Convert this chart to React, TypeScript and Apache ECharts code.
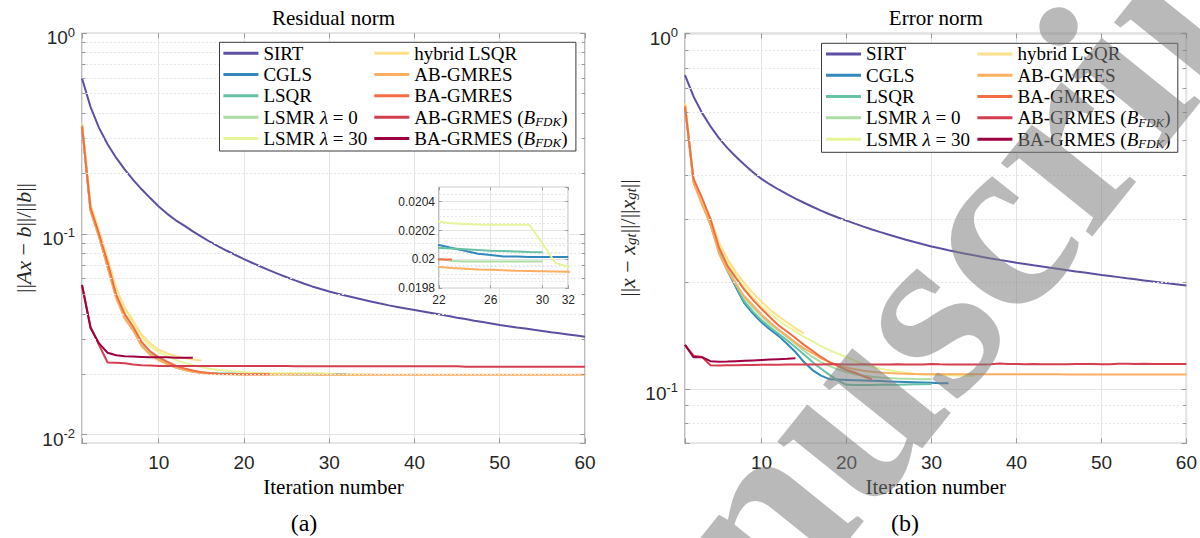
import React, { useEffect, useRef } from 'react';
import * as echarts from 'echarts';

// ---------- data ----------
const NAMES = ['SIRT', 'CGLS', 'LSQR', 'LSMR λ = 0', 'LSMR λ = 30', 'hybrid LSQR', 'AB-GMRES', 'BA-GMRES', 'AB-GRMES (B_FDK)', 'BA-GRMES (B_FDK)'];
const COLORS = ['#5E4FA2', '#3288BD', '#66C2A5', '#ABDDA4', '#E6F598', '#FEE08B', '#FDAE61', '#F46D43', '#D53E4F', '#9E0142'];
const LEGEND_TEXT = ['SIRT', 'CGLS', 'LSQR', 'LSMR {i|λ} = 0', 'LSMR {i|λ} = 30', 'hybrid LSQR', 'AB-GMRES', 'BA-GMRES', 'AB-GRMES ({i|B}{s|FDK})', 'BA-GRMES ({i|B}{s|FDK})'];

// Residual norm (panel a), value at iteration 1, 2, ...
const RES_SIRT = [0.597, 0.43, 0.338, 0.28, 0.24, 0.21, 0.186, 0.167, 0.151, 0.137,
  0.126, 0.117, 0.11, 0.103, 0.097, 0.0915, 0.0868, 0.0825, 0.0786, 0.075,
  0.0717, 0.0687, 0.0659, 0.0633, 0.0609, 0.0587, 0.0567, 0.0548, 0.0532, 0.0517,
  0.0504, 0.0492, 0.0481, 0.047, 0.046, 0.045, 0.0441, 0.0433, 0.0425, 0.0418,
  0.0411, 0.0404, 0.0397, 0.039, 0.0383, 0.0377, 0.037, 0.0364, 0.0358, 0.0352,
  0.0347, 0.0342, 0.0338, 0.0333, 0.0329, 0.0324, 0.032, 0.0316, 0.0312, 0.0308];
const RES_CGLS = [0.35, 0.132, 0.098, 0.07, 0.049, 0.039, 0.0335, 0.0282, 0.0254, 0.0238,
  0.0227, 0.0218, 0.0212, 0.0207, 0.0204, 0.0202, 0.02015, 0.02013, 0.02012, 0.02011,
  0.0201, 0.0201, 0.02008, 0.02006, 0.02004, 0.02003, 0.02002, 0.02002, 0.020017, 0.020017,
  0.020017, 0.020017];
const RES_LSQR = [0.35, 0.131, 0.097, 0.069, 0.049, 0.039, 0.0333, 0.028, 0.0253, 0.0237,
  0.0226, 0.0217, 0.0211, 0.0207, 0.0204, 0.02025, 0.02017, 0.02013, 0.0201, 0.02009,
  0.02008, 0.02008, 0.020075, 0.02007, 0.020065, 0.02006, 0.020058, 0.020055, 0.020052, 0.02005];
const RES_LSMR0 = [0.35, 0.131, 0.097, 0.069, 0.049, 0.039, 0.0333, 0.028, 0.0253, 0.0237,
  0.0225, 0.0216, 0.021, 0.0206, 0.0203, 0.02015, 0.0201, 0.02006, 0.02003, 0.02002,
  0.02001, 0.020005, 0.01999, 0.019985, 0.019985, 0.019985, 0.019985, 0.019985, 0.019985, 0.019985];
const RES_LSMR30 = [0.356, 0.14, 0.104, 0.075, 0.053, 0.042, 0.036, 0.0305, 0.0275, 0.0258,
  0.0246, 0.0236, 0.0228, 0.0222, 0.0217, 0.0213, 0.021, 0.0208, 0.02065, 0.0205,
  0.0203, 0.020262, 0.02025, 0.020245, 0.020242, 0.02024, 0.02024, 0.02024, 0.02024, 0.02011,
  0.019975, 0.01995, 0.01994, 0.01993, 0.01993];
const RES_HYBRID = [0.356, 0.14, 0.104, 0.076, 0.054, 0.043, 0.037, 0.0315, 0.0285, 0.0265,
  0.0254, 0.0246, 0.0241, 0.0237, 0.0234];
const RES_AB = [0.35, 0.13, 0.097, 0.068, 0.048, 0.038, 0.033, 0.0276, 0.025, 0.0235,
  0.0225, 0.0216, 0.021, 0.0206, 0.0203, 0.0201, 0.02, 0.01998, 0.01997, 0.01996,
  0.01995, 0.019947, 0.01994, 0.019935, 0.01993, 0.019928, 0.019925, 0.019922, 0.01992, 0.019918,
  0.019916, 0.019914, 0.019912, 0.01991, 0.019908, 0.019906, 0.019905, 0.019904, 0.019903, 0.019902,
  0.019901, 0.0199, 0.0199, 0.0199, 0.0199, 0.0199, 0.0199, 0.0199, 0.0199, 0.0199,
  0.0199, 0.0199, 0.0199, 0.0199, 0.0199, 0.0199, 0.0199, 0.0199, 0.0199, 0.0199];
const RES_BA = [0.343, 0.135, 0.1, 0.072, 0.05, 0.04, 0.0345, 0.029, 0.026, 0.0243,
  0.0231, 0.0221, 0.0214, 0.0209, 0.0205, 0.0203, 0.02015, 0.02008, 0.02004, 0.02002,
  0.02001, 0.02, 0.02];
const RES_ABF = [0.0557, 0.0345, 0.028, 0.0229, 0.0228, 0.0227, 0.0224, 0.0222, 0.0221, 0.022,
  0.022, 0.022, 0.022, 0.022, 0.022, 0.022, 0.022, 0.022, 0.022, 0.022,
  0.022, 0.022, 0.022, 0.022, 0.022, 0.0219, 0.0219, 0.0219, 0.0219, 0.0219,
  0.0219, 0.0219, 0.0219, 0.0219, 0.0219, 0.0219, 0.0219, 0.0219, 0.0219, 0.0219,
  0.0219, 0.0219, 0.0219, 0.0219, 0.0219, 0.0218, 0.0218, 0.0218, 0.0218, 0.0218,
  0.0218, 0.0218, 0.0218, 0.0218, 0.0218, 0.0218, 0.0218, 0.0218, 0.0218, 0.0218];
const RES_BAF = [0.0557, 0.034, 0.0285, 0.0256, 0.0249, 0.0246, 0.0245, 0.0244, 0.0243, 0.0243,
  0.0243, 0.0242, 0.0242, 0.0242];

// Error norm (panel b)
const ERR_SIRT = [0.764, 0.665, 0.598, 0.548, 0.508, 0.476, 0.45, 0.427, 0.407, 0.39,
  0.376, 0.364, 0.353, 0.343, 0.334, 0.3255, 0.3175, 0.31, 0.3035, 0.2975,
  0.2917, 0.2862, 0.281, 0.2761, 0.2715, 0.2671, 0.2629, 0.259, 0.2553, 0.2517,
  0.2486, 0.2456, 0.2428, 0.2401, 0.2376, 0.2352, 0.2329, 0.2307, 0.2286, 0.2266,
  0.2247, 0.2228, 0.221, 0.2192, 0.2175, 0.2158, 0.2141, 0.2125, 0.2109, 0.2093,
  0.2078, 0.2063, 0.2048, 0.2034, 0.202, 0.2006, 0.1992, 0.1979, 0.1966, 0.1953];
const ERR_CGLS = [0.63, 0.385, 0.335, 0.29, 0.245, 0.215, 0.193, 0.174, 0.163, 0.154,
  0.147, 0.141, 0.134, 0.127, 0.119, 0.113, 0.109, 0.1065, 0.1062, 0.106,
  0.1058, 0.1056, 0.1054, 0.1052, 0.105, 0.1048, 0.1046, 0.1044, 0.1042, 0.104,
  0.1038, 0.1037];
const ERR_LSQR = [0.63, 0.385, 0.336, 0.292, 0.247, 0.217, 0.195, 0.176, 0.165, 0.156,
  0.149, 0.143, 0.137, 0.131, 0.125, 0.119, 0.114, 0.1095, 0.1055, 0.1027,
  0.1026, 0.1026, 0.1026, 0.1027, 0.1027, 0.1028, 0.1029, 0.103, 0.1031, 0.1032];
const ERR_LSMR0 = [0.632, 0.387, 0.338, 0.295, 0.25, 0.22, 0.198, 0.18, 0.169, 0.16,
  0.152, 0.146, 0.14, 0.134, 0.128, 0.123, 0.119, 0.116, 0.1135, 0.1115,
  0.11, 0.109, 0.1082, 0.1077, 0.1073, 0.107, 0.1068, 0.1066, 0.1065, 0.1064];
const ERR_LSMR30 = [0.636, 0.39, 0.342, 0.3, 0.256, 0.228, 0.208, 0.193, 0.181, 0.171,
  0.163, 0.156, 0.15, 0.145, 0.14, 0.136, 0.132, 0.1285, 0.1255, 0.123,
  0.12, 0.1175, 0.1155, 0.114, 0.1128, 0.1118, 0.111, 0.1104, 0.11, 0.1097,
  0.1094, 0.1092, 0.109, 0.1089, 0.1088];
const ERR_HYBRID = [0.636, 0.39, 0.342, 0.302, 0.258, 0.232, 0.213, 0.198, 0.186, 0.176,
  0.167, 0.16, 0.154, 0.148, 0.1434];
const ERR_AB = [0.63, 0.38, 0.33, 0.29, 0.24, 0.215, 0.197, 0.182, 0.172, 0.162,
  0.154, 0.147, 0.141, 0.135, 0.13, 0.126, 0.122, 0.119, 0.1165, 0.1148,
  0.1135, 0.1125, 0.1118, 0.1112, 0.1108, 0.1105, 0.1103, 0.1101, 0.11, 0.11,
  0.1099, 0.1099, 0.1099, 0.1099, 0.1099, 0.1099, 0.1099, 0.1099, 0.1099, 0.1099,
  0.1099, 0.1099, 0.1099, 0.1099, 0.1099, 0.1098, 0.1098, 0.1098, 0.1098, 0.1098,
  0.1098, 0.1098, 0.1098, 0.1098, 0.1098, 0.1098, 0.1098, 0.1098, 0.1098, 0.1098];
const ERR_BA = [0.622, 0.39, 0.345, 0.3, 0.25, 0.222, 0.205, 0.19, 0.178, 0.168,
  0.159, 0.151, 0.145, 0.139, 0.133, 0.128, 0.123, 0.119, 0.116, 0.113,
  0.111, 0.1085, 0.1065];
const ERR_ABF = [0.133, 0.124, 0.123, 0.1165, 0.1163, 0.1165, 0.1166, 0.1167, 0.1168, 0.1169,
  0.117, 0.117, 0.1171, 0.1172, 0.1172, 0.1171, 0.1172, 0.1174, 0.1173, 0.1172,
  0.1172, 0.1173, 0.1172, 0.1171, 0.1172, 0.1173, 0.1172, 0.1172, 0.1172, 0.1175,
  0.1173, 0.1172, 0.1171, 0.1171, 0.1172, 0.1172, 0.1174, 0.1178, 0.1176, 0.1175,
  0.1174, 0.1175, 0.1173, 0.1174, 0.1174, 0.1173, 0.1175, 0.1176, 0.1175, 0.1174,
  0.1174, 0.1177, 0.1177, 0.1176, 0.1177, 0.1175, 0.1176, 0.1176, 0.1175, 0.1176];
const ERR_BAF = [0.133, 0.1228, 0.1228, 0.1197, 0.1192, 0.1194, 0.1197, 0.12, 0.1203, 0.1206,
  0.1209, 0.1212, 0.1215, 0.1219];

const RES_ALL = [RES_SIRT, RES_CGLS, RES_LSQR, RES_LSMR0, RES_LSMR30, RES_HYBRID, RES_AB, RES_BA, RES_ABF, RES_BAF];
const ERR_ALL = [ERR_SIRT, ERR_CGLS, ERR_LSQR, ERR_LSMR0, ERR_LSMR30, ERR_HYBRID, ERR_AB, ERR_BA, ERR_ABF, ERR_BAF];

// minor log grid levels
const MINOR_RES = [0.02, 0.03, 0.04, 0.05, 0.06, 0.07, 0.08, 0.09, 0.2, 0.3, 0.4, 0.5, 0.6, 0.7, 0.8, 0.9];
const MINOR_ERR = [0.08, 0.09, 0.2, 0.3, 0.4, 0.5, 0.6, 0.7, 0.8, 0.9];

const WATERMARK = 'Manuscript';

// ---------- style ----------
const AXIS_GRAY = '#9a9a9a';
const LABEL = '#262626';
const SANS = 'Liberation Sans';
const SERIF = 'Liberation Serif';
const GRID_MAJOR = '#e4e4e4';
const GRID_MINOR = '#e6e6e6';

const G_RES = { left: 82, top: 33.3, width: 503, height: 410 };
const G_INSET = { left: 439, top: 187.3, width: 129.3, height: 101 };
const G_ERR = { left: 685, top: 33.5, width: 501.7, height: 409.8 };

function logLabel() {
  return {
    show: true, margin: 7, padding: [9, 0, 0, 0],
    formatter: (v: number) => {
      const l = Math.log10(v);
      const e = Math.round(l);
      return Math.abs(l - e) < 1e-6 ? `{b|10}{s|${e}}` : '';
    },
    rich: {
      b: { fontSize: 19, fontFamily: SANS, color: LABEL, lineHeight: 24 },
      s: { fontSize: 13, fontFamily: SANS, color: LABEL, lineHeight: 12, verticalAlign: 'top' },
    },
  };
}

const tickInside = { show: true, inside: true, length: 5, lineStyle: { color: AXIS_GRAY, width: 1 } };

function mainX(gridIndex: number, top: boolean) {
  return {
    type: 'value', gridIndex, min: 1, max: 60, minInterval: 10, maxInterval: 10, splitNumber: 6,
    position: top ? 'top' : 'bottom',
    axisLine: { show: false },
    axisTick: tickInside,
    axisLabel: top ? { show: false } : {
      show: true, margin: 10, color: LABEL, fontFamily: SANS, fontSize: 19,
      formatter: (v: number) => (v % 10 === 0 ? String(v) : ''),
    },
    splitLine: top ? { show: false } : { show: true, lineStyle: { color: GRID_MAJOR, width: 1 } },
  };
}

function mainY(gridIndex: number, min: number, right: boolean) {
  return {
    type: 'log', logBase: 10, gridIndex, min, max: 1,
    position: right ? 'right' : 'left',
    axisLine: { show: false },
    axisTick: tickInside,
    axisLabel: right ? { show: false } : logLabel(),
    splitLine: right ? { show: false } : { show: true, lineStyle: { color: GRID_MAJOR, width: 1 } },
  };
}

function lineSeries(name: string, color: string, vals: number[], xi: number, yi: number, z: number) {
  return {
    type: 'line', name, data: vals.map((v, i) => [i + 1, v]),
    xAxisIndex: xi, yAxisIndex: yi, symbol: 'none', showSymbol: false,
    lineStyle: { color, width: 2 }, itemStyle: { color }, z, silent: true, clip: true,
  };
}

function minorSeries(xi: number, yi: number, levels: number[]) {
  return [
    {
      type: 'line', data: [], xAxisIndex: xi, yAxisIndex: yi, silent: true, z: 1,
      markLine: {
        silent: true, symbol: ['none', 'none'], label: { show: false }, animation: false,
        lineStyle: { color: GRID_MINOR, type: [2, 2], width: 1 },
        data: levels.map((v) => ({ yAxis: v })),
      },
    },
    {
      type: 'line', data: [], xAxisIndex: xi, yAxisIndex: yi, silent: true, z: 1,
      markLine: {
        silent: true, symbol: ['none', 'none'], label: { show: false }, animation: false,
        lineStyle: { color: AXIS_GRAY, type: 'solid', width: 1 },
        data: levels.flatMap((v) => [
          [{ coord: [1, v] }, { coord: [1.4, v] }],
          [{ coord: [59.6, v] }, { coord: [60, v] }],
        ]),
      },
    },
  ];
}

function legends(left1: number, left2: number, top: number) {
  const common = {
    orient: 'vertical', itemWidth: 35, itemHeight: 3, itemGap: 0, padding: 0, icon: 'rect',
    selectedMode: false, z: 8, top,
    formatter: (name: string) => LEGEND_TEXT[NAMES.indexOf(name)],
    textStyle: {
      fontFamily: SERIF, fontSize: 19, color: '#000', lineHeight: 21.3,
      rich: {
        i: { fontFamily: SERIF, fontStyle: 'italic', fontSize: 19, color: '#000', lineHeight: 21.3 },
        s: { fontFamily: SERIF, fontStyle: 'italic', fontSize: 13, color: '#000', lineHeight: 12, verticalAlign: 'bottom' },
      },
    },
  };
  return [
    { ...common, left: left1, data: NAMES.slice(0, 5) },
    { ...common, left: left2, data: NAMES.slice(5) },
  ];
}

function buildOption() {
  const series: any[] = [];
  series.push(...minorSeries(0, 0, MINOR_RES));
  series.push(...minorSeries(4, 4, MINOR_ERR));
  NAMES.forEach((n, k) => {
    series.push(lineSeries(n, COLORS[k], RES_ALL[k], 0, 0, 2 + k * 0.01));
    series.push(lineSeries(n, COLORS[k], RES_ALL[k], 2, 2, 6 + k * 0.01));
    series.push(lineSeries(n, COLORS[k], ERR_ALL[k], 4, 4, 2 + k * 0.01));
  });

  const serifText = (text: string, x: number, y: number, size: number) => ({
    type: 'text', x, y, z: 10,
    style: { text, fontFamily: SERIF, fontSize: size, fill: '#000', align: 'center', verticalAlign: 'middle' },
  });
  const yName = (text: string, x: number, y: number) => ({
    type: 'text', x, y, rotation: Math.PI / 2, z: 10,
    style: {
      text, fontFamily: SERIF, fontSize: 22, fill: '#262626', align: 'center', verticalAlign: 'middle',
      rich: {
        i: { fontFamily: SERIF, fontStyle: 'italic', fontSize: 22, fill: '#262626' },
        s: { fontFamily: SERIF, fontStyle: 'italic', fontSize: 15, fill: '#262626', lineHeight: 10, verticalAlign: 'bottom' },
      },
    },
  });
  const legendBox = (x: number, y: number, w: number, h: number) => ({
    type: 'rect', z: 7, shape: { x, y, width: w, height: h },
    style: { fill: '#fff', stroke: '#3a3a3a', lineWidth: 1 },
  });

  return {
    animation: false,
    backgroundColor: '#fff',
    grid: [
      { ...G_RES, show: true, borderColor: AXIS_GRAY, borderWidth: 1.3, backgroundColor: 'transparent', z: 0 },
      { ...G_INSET, show: true, borderColor: AXIS_GRAY, borderWidth: 1.3, backgroundColor: '#fff', z: 4 },
      { ...G_ERR, show: true, borderColor: AXIS_GRAY, borderWidth: 1.3, backgroundColor: 'transparent', z: 0 },
    ],
    xAxis: [
      mainX(0, false),
      mainX(0, true),
      {
        type: 'value', gridIndex: 1, min: 22, max: 32, interval: 4, position: 'bottom', z: 5,
        axisLine: { show: false }, axisTick: { ...tickInside, length: 3 },
        axisLabel: { show: true, margin: 6, color: LABEL, fontFamily: SANS, fontSize: 12, showMaxLabel: true },
        splitLine: { show: true, lineStyle: { color: GRID_MAJOR } },
      },
      {
        type: 'value', gridIndex: 1, min: 22, max: 32, interval: 4, position: 'top', z: 5,
        axisLine: { show: false }, axisTick: { ...tickInside, length: 3 }, axisLabel: { show: false }, splitLine: { show: false },
      },
      mainX(2, false),
      mainX(2, true),
    ],
    yAxis: [
      mainY(0, 0.00906, false),
      mainY(0, 0.00906, true),
      {
        type: 'value', gridIndex: 1, min: 0.0198, max: 0.0205, interval: 0.0002, position: 'left', z: 5,
        axisLine: { show: false }, axisTick: { ...tickInside, length: 3 },
        axisLabel: {
          show: true, margin: 4, color: LABEL, fontFamily: SANS, fontSize: 12, showMaxLabel: false,
          formatter: (v: number) => v.toFixed(4).replace(/0+$/, ''),
        },
        splitLine: { show: true, lineStyle: { color: GRID_MAJOR } },
        minorTick: { show: false, splitNumber: 4 },
        minorSplitLine: { show: true, lineStyle: { color: GRID_MINOR, type: [2, 2] } },
      },
      {
        type: 'value', gridIndex: 1, min: 0.0198, max: 0.0205, interval: 0.0002, position: 'right', z: 5,
        axisLine: { show: false }, axisTick: { ...tickInside, length: 3 }, axisLabel: { show: false }, splitLine: { show: false },
      },
      mainY(2, 0.0703, false),
      mainY(2, 0.0703, true),
    ],
    legend: [...legends(223.4, 374.3, 42.6), ...legends(826, 977.4, 43.3)],
    graphic: [
      legendBox(219.5, 42.3, 356.4, 108.7),
      legendBox(821.5, 43.3, 356.3, 109),
      serifText('Residual norm', 333.5, 18, 21),
      serifText('Error norm', 935.8, 18, 21),
      serifText('Iteration number', 333.5, 487, 21),
      serifText('Iteration number', 935.8, 487, 21),
      serifText('(a)', 304, 523, 24),
      serifText('(b)', 905, 523, 24),
      yName('||{i|Ax} − {i|b}||/||{i|b}||', 23, 238),
      yName('||{i|x} − {i|x}{s|gt}||/||{i|x}{s|gt}||', 627, 238),
      {
        type: 'text', x: 480, y: 862, rotation: 0.895, z: 30, silent: true,
        style: {
          text: WATERMARK, fontFamily: SERIF, fontWeight: 'bold', fontSize: 255,
          fill: '#808080', opacity: 0.55, align: 'left', verticalAlign: 'middle',
        },
      },
    ],
    series,
  };
}

export default function App() {
  const ref = useRef<HTMLDivElement>(null);
  useEffect(() => {
    document.body.style.margin = '0';
    const chart = echarts.init(ref.current!, null, { renderer: 'svg' });
    chart.setOption(buildOption() as any);
    return () => chart.dispose();
  }, []);
  return <div ref={ref} style={{ width: 1200, height: 538 }} />;
}
